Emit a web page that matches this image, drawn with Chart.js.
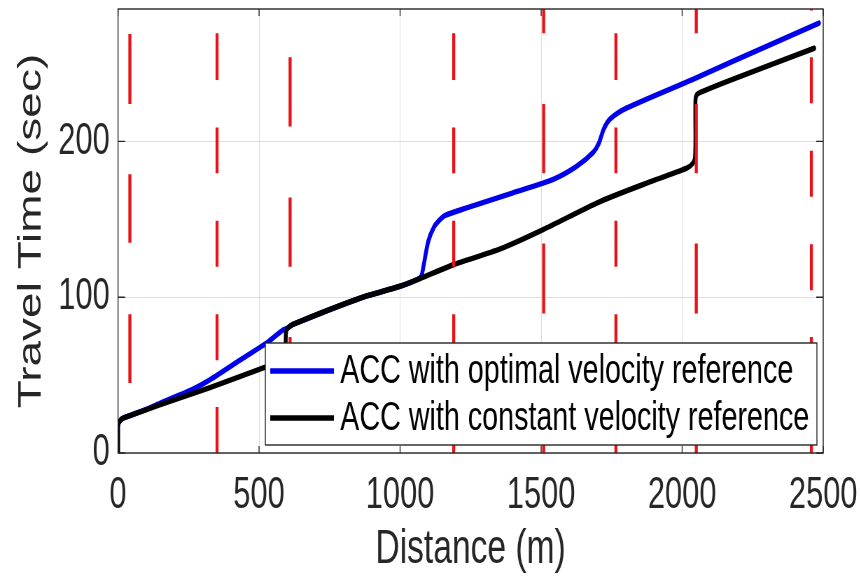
<!DOCTYPE html>
<html>
<head>
<meta charset="utf-8">
<title>Travel Time vs Distance</title>
<script src="https://cdn.jsdelivr.net/npm/chart.js@4.4.0/dist/chart.umd.min.js"></script>
<style>
  html, body { margin: 0; padding: 0; background: #fff; overflow: hidden; }
  /* the figure is drawn wide and squeezed horizontally */
  #wrap { width: 1229px; height: 583px; transform: scaleX(0.7); transform-origin: 0 0; }
</style>
</head>
<body>
<div id="wrap"><canvas id="travelChart"></canvas></div>
<script>
const FONT = '"Liberation Sans", Arial, Helvetica, sans-serif';

// axis ticks
const distTicks = [0, 500, 1000, 1500, 2000, 2500];
const timeTicks = [0, 100, 200];

// ACC with optimal velocity reference
const optDist = [0, 0, 6, 20, 42, 100, 150, 266, 326, 444, 530, 560, 585, 599, 620, 860, 1000, 1060, 1075,
  1085, 1100, 1120, 1140, 1160, 1236, 1400, 1543, 1626, 1685, 1705, 1722, 1745, 1804, 2040, 2181, 2485];
const optTime = [0, 17, 20.5, 22.5, 24, 28, 32, 41, 47, 61, 71, 75.5, 79, 80, 82.5, 99.5, 107, 111.3, 113.5,
  122, 136, 145, 149.5, 152.5, 157.3, 167, 175.6, 184, 193, 199, 208, 214.5, 221.5, 240, 251.5, 276];

// ACC with constant velocity reference
const constDist = [0, 0, 6, 20, 42, 150, 326, 527, 585, 591, 594, 595, 599, 620, 860, 1000, 1071, 1191,
  1355, 1507, 1709, 1900, 2018, 2038, 2045, 2047, 2047, 2052, 2075, 2181, 2468];
const constTime = [0, 17, 20.5, 22.5, 24, 31, 42, 55.5, 60, 61.5, 64, 76, 79.5, 82.5, 99.5, 107, 112, 121,
  131, 143.4, 161.4, 175, 183, 186, 189, 200, 226, 230, 232.3, 240, 259.8];

// traffic signals: position (m) and red phases [start, end] (sec)
const signalDist = [42, 351, 610, 1190, 1509, 1765, 2050, 2458];
const redPhases = [
  [[45, 89], [135, 179], [224, 269]],
  [[0, 29.5], [59.5, 89], [119.5, 149], [179.5, 209], [239.5, 269.5]],
  [[29.5, 74.5], [119.5, 164], [209.5, 254]],
  [[0, 29.5], [59.5, 89], [119.5, 149], [179.5, 209], [239.5, 269.5]],
  [[0, 44.5], [89.5, 134.5], [179.5, 224], [269.5, 285]],
  [[0, 29.5], [59.5, 89], [119.5, 149], [179.5, 209], [239.5, 269.5]],
  [[0, 44.5], [89.5, 134.5], [179.5, 224], [269.5, 285]],
  [[0, 14.5], [44.5, 74.5], [104.5, 134], [164.5, 194], [224.5, 254], [284, 285]]
];

const toXY = (xs, ys) => xs.map((x, i) => ({ x: x, y: ys[i] }));

// one dataset for all red bars, broken up with null gaps
const redPoints = [];
signalDist.forEach((d, i) => {
  redPhases[i].forEach(([t0, t1]) => {
    redPoints.push({ x: d, y: t0 }, { x: d, y: t1 }, { x: d, y: null });
  });
});

// box, inward ticks and the boxed legend
const frameAndLegend = {
  id: 'frameAndLegend',
  afterDatasetsDraw(chart) {
    const { ctx, chartArea: a, scales } = chart;
    ctx.save();
    ctx.strokeStyle = '#262626';
    ctx.lineWidth = 1.4;
    ctx.strokeRect(a.left, a.top, a.right - a.left, a.bottom - a.top);
    ctx.beginPath();
    distTicks.forEach(v => {
      const x = scales.x.getPixelForValue(v);
      ctx.moveTo(x, a.bottom); ctx.lineTo(x, a.bottom - 7);
      ctx.moveTo(x, a.top); ctx.lineTo(x, a.top + 7);
    });
    timeTicks.forEach(v => {
      const y = scales.y.getPixelForValue(v);
      ctx.moveTo(a.left, y); ctx.lineTo(a.left + 10, y);
      ctx.moveTo(a.right, y); ctx.lineTo(a.right - 10, y);
    });
    ctx.stroke();

    const items = chart.data.datasets.filter(d => d.label);
    ctx.font = '41px ' + FONT;
    const textW = Math.max(...items.map(d => ctx.measureText(d.label).width));
    const padL = 7, sample = 91, gap = 9, padR = 11, rowH = 47;
    const boxW = padL + sample + gap + textW + padR;
    const boxH = 102;
    const right = a.right - 9, bottom = a.bottom - 8;
    const left = right - boxW, top = bottom - boxH;
    ctx.fillStyle = '#fff';
    ctx.fillRect(left, top, boxW, boxH);
    ctx.strokeStyle = '#262626';
    ctx.lineWidth = 1.4;
    ctx.strokeRect(left, top, boxW, boxH);
    ctx.textBaseline = 'middle';
    ctx.textAlign = 'left';
    items.forEach((d, i) => {
      const y = top + 28 + i * rowH;
      ctx.beginPath();
      ctx.strokeStyle = d.borderColor;
      ctx.lineWidth = d.borderWidth;
      ctx.moveTo(left + padL, y);
      ctx.lineTo(left + padL + sample, y);
      ctx.stroke();
      ctx.fillStyle = '#000';
      ctx.fillText(d.label, left + padL + sample + gap, y + 1);
    });
    ctx.restore();
  }
};

new Chart(document.getElementById('travelChart'), {
  type: 'line',
  data: {
    datasets: [{
      label: 'ACC with optimal velocity reference',
      data: toXY(optDist, optTime),
      borderColor: 'rgb(0, 0, 235)',
      borderWidth: 5.5,
      tension: 0.25,
      pointRadius: 0,
      borderJoinStyle: 'round',
      borderCapStyle: 'round',
      order: 3
    }, {
      label: 'ACC with constant velocity reference',
      data: toXY(constDist, constTime),
      borderColor: '#000',
      borderWidth: 5.5,
      tension: 0.25,
      pointRadius: 0,
      borderJoinStyle: 'round',
      borderCapStyle: 'round',
      order: 2
    }, {
      data: redPoints,
      borderColor: 'rgb(232, 18, 24)',
      borderWidth: 4.3,
      pointRadius: 0,
      spanGaps: false,
      clip: 0,
      order: 1
    }]
  },
  options: {
    responsive: true,
    maintainAspectRatio: false,
    animation: false,
    layout: { padding: { left: 0, right: 53, top: 9, bottom: 0 } },
    plugins: { legend: { display: false }, tooltip: { enabled: false } },
    scales: {
      x: {
        type: 'linear',
        min: 0,
        max: 2500,
        afterBuildTicks: s => { s.ticks = distTicks.map(v => ({ value: v })); },
        afterFit: s => { s.height = 130; s.paddingLeft = 0; s.paddingRight = 0; },
        grid: { color: '#dcdcdc', lineWidth: 1, drawTicks: false },
        border: { display: false },
        ticks: { color: '#262626', padding: 16, maxRotation: 0, callback: v => String(v),
          font: { family: FONT, size: 44 } },
        title: { display: true, text: 'Distance (m)', color: '#262626',
          padding: { top: 0, bottom: 4 }, font: { family: FONT, size: 48 } }
      },
      y: {
        min: 0,
        max: 285,
        afterBuildTicks: s => { s.ticks = timeTicks.map(v => ({ value: v })); },
        afterFit: s => { s.width = 168.6; s.paddingTop = 0; s.paddingBottom = 0; },
        grid: { color: '#dcdcdc', lineWidth: 1, drawTicks: false },
        border: { display: false },
        ticks: { color: '#262626', padding: 12, callback: v => String(v),
          font: { family: FONT, size: 44 } },
        title: { display: true, text: 'Travel Time (sec)', color: '#262626',
          padding: { top: 18, bottom: 0 }, font: { family: FONT, size: 46 } }
      }
    }
  },
  plugins: [frameAndLegend]
});
</script>
</body>
</html>
